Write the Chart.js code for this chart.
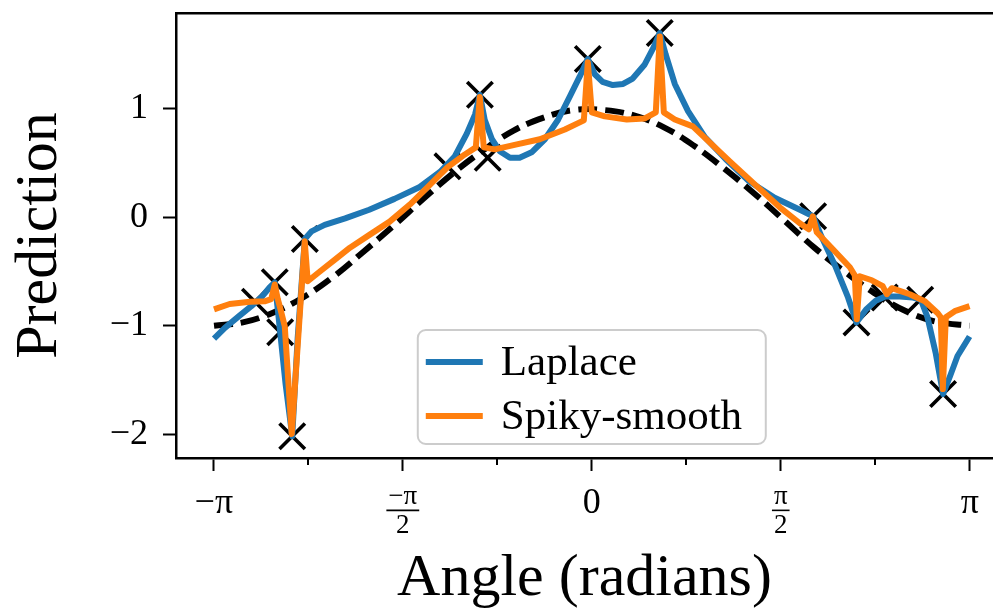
<!DOCTYPE html>
<html><head><meta charset="utf-8">
<style>html,body{margin:0;padding:0;background:#fff;overflow:hidden}canvas{display:block}</style>
<script src="https://cdn.jsdelivr.net/npm/chart.js@4.4.1/dist/chart.umd.min.js"></script>
</head><body>
<canvas id="c" width="993" height="609"></canvas>
<script>
// ---- data ----
const trainX = [-2.80,-2.635,-2.59,-2.49,-2.385,-1.20,-0.93,-0.865,-0.033,0.565,1.84,2.20,2.435,2.73,2.92];
const trainY = [-0.78,-0.60,-1.06,-2.02,-0.20,0.47,1.13,0.55,1.46,1.70,0.01,-0.97,-0.74,-0.76,-1.63];

const trueX = [-3.14,-2.9,-2.65,-2.4,-2.15,-1.9,-1.65,-1.4,-1.15,-0.9,-0.65,-0.4,-0.15,0.1,0.35,0.6,0.85,1.1,1.35,1.6,1.85,2.1,2.35,2.6,2.85,3.14];
const trueY = [-1.00,-0.97,-0.88,-0.74,-0.55,-0.32,-0.08,0.17,0.41,0.62,0.80,0.92,0.99,0.99,0.94,0.83,0.66,0.45,0.22,-0.03,-0.28,-0.50,-0.70,-0.86,-0.96,-1.00];

const laplaceX = [-3.14,-3.05,-2.93,-2.83,-2.74,-2.68,-2.635,-2.61,-2.59,-2.545,-2.49,-2.445,-2.385,-2.33,-2.22,-2.05,-1.85,-1.64,-1.43,-1.26,-1.14,-1.04,-0.97,-0.93,-0.89,-0.83,-0.765,-0.68,-0.6,-0.5,-0.39,-0.28,-0.18,-0.1,-0.033,0.025,0.09,0.175,0.26,0.34,0.44,0.515,0.565,0.615,0.69,0.8,0.94,1.11,1.31,1.52,1.73,1.84,1.91,2.02,2.13,2.2,2.28,2.36,2.44,2.56,2.67,2.735,2.79,2.86,2.92,2.98,3.04,3.14];
const laplaceY = [-1.12,-1.02,-0.91,-0.82,-0.73,-0.65,-0.60,-0.85,-1.06,-1.54,-2.02,-1.12,-0.20,-0.13,-0.07,-0.01,0.07,0.17,0.28,0.42,0.56,0.77,0.95,1.13,0.90,0.72,0.61,0.55,0.55,0.60,0.72,0.90,1.12,1.30,1.46,1.32,1.25,1.22,1.23,1.28,1.41,1.57,1.70,1.50,1.23,0.98,0.74,0.54,0.33,0.18,0.07,0.01,-0.18,-0.44,-0.74,-0.97,-0.85,-0.77,-0.73,-0.73,-0.74,-0.76,-0.92,-1.26,-1.63,-1.46,-1.28,-1.10];

const spikyX = [-3.14,-3.01,-2.84,-2.72,-2.665,-2.635,-2.61,-2.594,-2.552,-2.494,-2.386,-2.361,-2.26,-2.135,-2.01,-1.845,-1.68,-1.51,-1.35,-1.2,-1.055,-0.964,-0.931,-0.898,-0.806,-0.623,-0.432,-0.224,-0.066,-0.033,0,0.108,0.291,0.441,0.532,0.565,0.599,0.69,0.84,0.98,1.147,1.355,1.563,1.729,1.804,1.837,1.87,2.02,2.145,2.186,2.203,2.228,2.328,2.419,2.452,2.494,2.643,2.768,2.876,2.901,2.918,2.943,3.017,3.14];
const spikyY = [-0.85,-0.80,-0.78,-0.775,-0.755,-0.62,-0.755,-0.82,-1.005,-2.00,-0.22,-0.59,-0.50,-0.39,-0.28,-0.16,-0.04,0.12,0.295,0.46,0.58,0.645,1.11,0.645,0.627,0.673,0.72,0.81,0.894,1.43,0.968,0.931,0.903,0.912,0.968,1.668,0.968,0.903,0.839,0.691,0.516,0.304,0.092,-0.055,-0.111,0.009,-0.138,-0.313,-0.461,-0.535,-0.94,-0.544,-0.581,-0.636,-0.71,-0.654,-0.71,-0.774,-0.885,-0.922,-1.585,-0.922,-0.866,-0.82];

const seriesNames = ['Laplace', 'Spiky-smooth'];
const xTickValues = [-Math.PI, -Math.PI/2, 0, Math.PI/2, Math.PI];
const xTickLabels = [['−π'], ['−π','2'], ['0'], ['π','2'], ['π']];
const xMinorTickValues = [-3*Math.PI/4, -Math.PI/4, Math.PI/4, 3*Math.PI/4];
const yTickValues = [-2, -1, 0, 1];
const yTickLabels = ['−2', '−1', '0', '1'];
const xTitle = 'Angle (radians)';
const yTitle = 'Prediction';

// ---- styling ----
const SERIF = "'Liberation Serif', 'Times New Roman', serif";
const BLUE = '#1f77b4', ORANGE = '#ff7f0e';
const LW = 6;
const pts = (xs, ys) => xs.map((x, i) => ({x: x, y: ys[i]}));
const TICK_PAD = 12;
const bigFont = {family: SERIF, size: 36, lineHeight: 1.15};
const fracFont = {family: SERIF, size: 27, lineHeight: 1.05};
const noPad = s => { s.paddingTop = 0; s.paddingBottom = 0; s.paddingLeft = 0; s.paddingRight = 0; };

const decor = {
  id: 'decor',
  afterDraw(chart) {
    const ctx = chart.ctx, xs = chart.scales.x, area = chart.chartArea;
    ctx.save();
    // minor ticks
    ctx.strokeStyle = '#000'; ctx.lineWidth = 2;
    xMinorTickValues.forEach(v => {
      const p = Math.round(xs.getPixelForValue(v));
      ctx.beginPath(); ctx.moveTo(p, area.bottom); ctx.lineTo(p, area.bottom + 7); ctx.stroke();
    });
    // fraction bars
    ctx.font = fracFont.size + 'px ' + SERIF;
    xTickValues.forEach((v, i) => {
      const lab = xTickLabels[i];
      if (lab.length < 2) return;
      const p = xs.getPixelForValue(v);
      const w = Math.max(ctx.measureText(lab[0]).width, ctx.measureText(lab[1]).width) + 4;
      const y = xs.top + 13 + TICK_PAD + fracFont.size * fracFont.lineHeight - 1;
      ctx.lineWidth = 1.6;
      ctx.beginPath(); ctx.moveTo(p - w/2, y); ctx.lineTo(p + w/2, y); ctx.stroke();
    });
    // legend (lower center of the axes)
    const W = 348, H = 114;
    const cx = xs.getPixelForValue(0);
    const bx = cx - W/2, by = area.bottom - 14 - H;
    ctx.beginPath();
    ctx.roundRect(bx, by, W, H, 8);
    ctx.fillStyle = 'rgba(255,255,255,0.8)'; ctx.fill();
    ctx.strokeStyle = '#cccccc'; ctx.lineWidth = 2; ctx.stroke();
    ctx.font = '43px ' + SERIF;
    ctx.textBaseline = 'middle'; ctx.textAlign = 'left';
    seriesNames.forEach((name, i) => {
      const ds = chart.data.datasets.find(d => d.label === name);
      const y = by + 32 + i * 54;
      ctx.strokeStyle = ds.borderColor; ctx.lineWidth = LW;
      ctx.beginPath(); ctx.moveTo(bx + 8, y); ctx.lineTo(bx + 65, y); ctx.stroke();
      ctx.fillStyle = '#000';
      ctx.fillText(name, bx + 83, y + 2);
    });
    ctx.restore();
  }
};

new Chart(document.getElementById('c'), {
  type: 'scatter',
  data: {
    datasets: [
      {label: seriesNames[1], data: pts(spikyX, spikyY), showLine: true, borderColor: ORANGE, backgroundColor: ORANGE,
       borderWidth: LW, pointRadius: 0, tension: 0, borderJoinStyle: 'round', order: 0},
      {label: seriesNames[0], data: pts(laplaceX, laplaceY), showLine: true, borderColor: BLUE, backgroundColor: BLUE,
       borderWidth: LW, pointRadius: 0, tension: 0, borderJoinStyle: 'round', order: 1},
      {label: '', data: pts(trueX, trueY), showLine: true, borderColor: '#000', borderWidth: LW,
       borderDash: [19, 8], pointRadius: 0, tension: 0.4, order: 2},
      {label: '', data: pts(trainX, trainY), showLine: false, pointStyle: 'crossRot', pointRadius: 18,
       pointBorderColor: '#000', pointBorderWidth: 3.6, borderColor: '#000', order: 3}
    ]
  },
  options: {
    responsive: false, animation: false, devicePixelRatio: 1,
    layout: {padding: 0, autoPadding: false},
    plugins: {legend: {display: false}, tooltip: {enabled: false}},
    scales: {
      x: {
        type: 'linear', position: 'bottom', min: -3.456, max: 3.335,
        afterBuildTicks: s => { s.ticks = xTickValues.map(v => ({value: v})); },
        afterFit: s => { s.height = 151; noPad(s); },
        grid: {drawOnChartArea: false, drawTicks: true, tickLength: 13, tickWidth: 2, tickColor: '#000'},
        border: {display: true, color: '#000', width: 2.5},
        ticks: {
          color: '#000', padding: TICK_PAD, maxRotation: 0, autoSkip: false,
          callback: (v, i) => xTickLabels[i],
          font: c => ((xTickLabels[c.index] || []).length > 1 ? fracFont : bigFont)
        },
        title: {display: true, text: xTitle, color: '#000', font: {family: SERIF, size: 60, lineHeight: 1}, padding: {top: 0, bottom: 0}}
      },
      xTop: {
        type: 'linear', position: 'top', min: -3.456, max: 3.335,
        afterFit: s => { s.height = 13; noPad(s); },
        ticks: {display: false}, grid: {display: false},
        border: {display: true, color: '#000', width: 2.5}
      },
      y: {
        type: 'linear', position: 'left', min: -2.221, max: 1.885,
        afterBuildTicks: s => { s.ticks = yTickValues.map(v => ({value: v})); },
        afterFit: s => { s.width = 176; noPad(s); },
        grid: {drawOnChartArea: false, drawTicks: true, tickLength: 13, tickWidth: 2, tickColor: '#000'},
        border: {display: true, color: '#000', width: 2.5},
        ticks: {color: '#000', padding: 15, font: bigFont, callback: (v, i) => yTickLabels[i]},
        title: {display: true, text: yTitle, color: '#000', font: {family: SERIF, size: 60, lineHeight: 1}, padding: {top: 10, bottom: 0}}
      }
    }
  },
  plugins: [decor]
});
</script>
</body></html>
